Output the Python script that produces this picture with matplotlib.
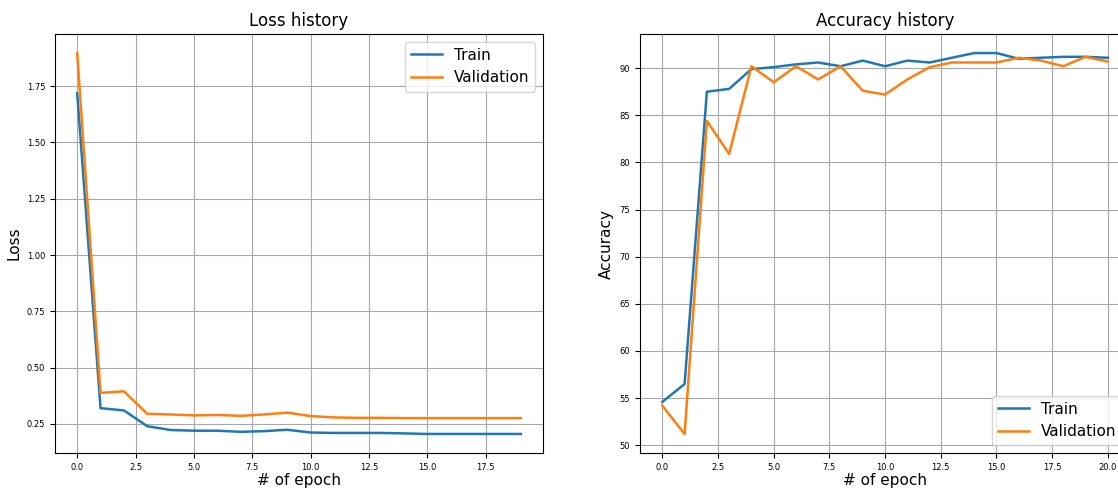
import numpy as np
import matplotlib
matplotlib.use("Agg")
import matplotlib.pyplot as plt

# loss per epoch (20 epochs)
loss_train = [1.718, 0.320, 0.310, 0.240, 0.223, 0.220, 0.220, 0.215, 0.218, 0.224,
              0.212, 0.210, 0.210, 0.210, 0.208, 0.2055, 0.2055, 0.2055, 0.2055, 0.2055]
loss_val = [1.8965, 0.388, 0.395, 0.295, 0.292, 0.288, 0.290, 0.286, 0.292, 0.300,
            0.285, 0.279, 0.277, 0.277, 0.276, 0.276, 0.276, 0.276, 0.276, 0.276]

# accuracy per epoch (21 epochs)
acc_train = [54.6, 56.5, 87.5, 87.8, 89.9, 90.1, 90.4, 90.6, 90.2, 90.8, 90.2,
             90.8, 90.6, 91.1, 91.6, 91.6, 91.0, 91.1, 91.2, 91.2, 91.1]
acc_val = [54.2, 51.2, 84.4, 80.9, 90.2, 88.5, 90.2, 88.8, 90.2, 87.6, 87.2,
           88.8, 90.1, 90.6, 90.6, 90.6, 91.1, 90.8, 90.2, 91.2, 90.7]

fig = plt.figure(figsize=(11.18, 4.88), dpi=100)

ax1 = fig.add_axes([0.0492, 0.0717, 0.4365, 0.8586])
ax1.plot(np.arange(len(loss_train)), loss_train, lw=1.8, label="Train")
ax1.plot(np.arange(len(loss_val)), loss_val, lw=1.8, label="Validation")
ax1.set_title("Loss history", fontsize=12)
ax1.set_xlabel("# of epoch", fontsize=11, labelpad=1)
ax1.set_ylabel("Loss", fontsize=11)
ax1.grid(True, color="#a8a8a8")
ax1.tick_params(labelsize=6)
ax1.legend(fontsize=11)

ax2 = fig.add_axes([0.5725, 0.0717, 0.4383, 0.8586])
ax2.plot(np.arange(len(acc_train)), acc_train, lw=1.8, label="Train")
ax2.plot(np.arange(len(acc_val)), acc_val, lw=1.8, label="Validation")
ax2.set_title("Accuracy history", fontsize=12)
ax2.set_xlabel("# of epoch", fontsize=11, labelpad=1)
ax2.set_ylabel("Accuracy", fontsize=11)
ax2.grid(True, color="#a8a8a8")
ax2.tick_params(labelsize=6)
ax2.legend(fontsize=11, loc="lower right")

fig.savefig("out.png", dpi=100)
